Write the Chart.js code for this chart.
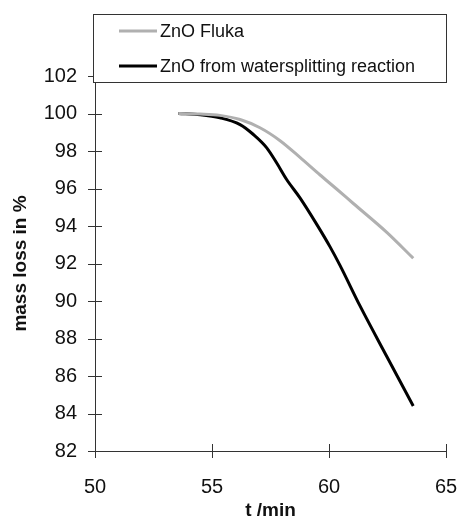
<!DOCTYPE html>
<html>
<head>
  <meta charset="utf-8">
  <title>ZnO mass loss</title>
  <script src="https://cdn.jsdelivr.net/npm/chart.js"></script>
  <style>
    html, body { margin: 0; padding: 0; background: #fff; }
    #wrap { width: 460px; height: 518px; position: relative; }
  </style>
</head>
<body>
  <div id="wrap"><canvas id="myChart"></canvas></div>
  <script>
    // values
    const seriesNames = ['ZnO Fluka', 'ZnO from watersplitting reaction'];
    const tFluka = [53.56, 54.5, 55.34, 56.2, 57.05, 57.91, 58.76, 59.62, 60.3, 61.04, 62.47, 63.6];
    const massFluka = [100.0, 99.97, 99.9, 99.68, 99.24, 98.55, 97.66, 96.72, 96.0, 95.2, 93.66, 92.28];
    const tWater = [53.56, 54.5, 55.34, 56.2, 56.77, 57.34, 57.76, 58.19, 58.76, 59.47, 60.04, 60.47, 61.32, 62.47, 63.6];
    const massWater = [100.0, 99.93, 99.77, 99.41, 98.88, 98.17, 97.37, 96.48, 95.5, 94.1, 92.9, 91.9, 89.75, 87.04, 84.4];
    const xTicks = [50, 55, 60, 65];
    const yTicks = [82, 84, 86, 88, 90, 92, 94, 96, 98, 100, 102];

    const font = "Liberation Sans, Arial, sans-serif";
    const axisColor = '#333';

    const toPoints = (xs, ys) => xs.map((x, i) => ({ x: x, y: ys[i] }));

    // ticks that cross the axis line, like the original
    const crossTicks = {
      id: 'crossTicks',
      afterDraw(chart) {
        const ctx = chart.ctx;
        const xs = chart.scales.x, ys = chart.scales.y;
        ctx.save();
        ctx.strokeStyle = axisColor;
        ctx.lineWidth = 1;
        ctx.beginPath();
        xTicks.forEach(v => {
          const px = Math.round(xs.getPixelForValue(v)) + 0.5;
          ctx.moveTo(px, ys.bottom - 7);
          ctx.lineTo(px, ys.bottom + 7);
        });
        yTicks.forEach(v => {
          const py = Math.round(ys.getPixelForValue(v)) + 0.5;
          ctx.moveTo(xs.left - 7, py);
          ctx.lineTo(xs.left + 7, py);
        });
        ctx.stroke();
        ctx.restore();
      }
    };

    // boxed legend overlapping the top of the plot
    const boxLegend = {
      id: 'boxLegend',
      afterDraw(chart) {
        const ctx = chart.ctx;
        const ds = chart.data.datasets;
        ctx.save();
        ctx.fillStyle = '#fff';
        ctx.fillRect(93, 14, 354, 69);
        ctx.strokeStyle = axisColor;
        ctx.lineWidth = 1;
        ctx.strokeRect(93.5, 14.5, 353, 68);
        ctx.font = '18px ' + font;
        ctx.textBaseline = 'middle';
        const rows = [31, 66];
        ds.forEach((d, i) => {
          ctx.strokeStyle = d.borderColor;
          ctx.lineWidth = 3;
          ctx.beginPath();
          ctx.moveTo(119, rows[i]);
          ctx.lineTo(157, rows[i]);
          ctx.stroke();
          ctx.fillStyle = '#111';
          ctx.fillText(d.label, 160, rows[i] + 1);
        });
        ctx.restore();
      }
    };

    const ctx = document.getElementById('myChart').getContext('2d');
    new Chart(ctx, {
      type: 'line',
      data: {
        datasets: [{
          label: seriesNames[0],
          data: toPoints(tFluka, massFluka),
          borderColor: '#b0b0b0',
          borderWidth: 3,
          pointRadius: 0,
          cubicInterpolationMode: 'monotone'
        }, {
          label: seriesNames[1],
          data: toPoints(tWater, massWater),
          borderColor: '#000',
          borderWidth: 3,
          pointRadius: 0,
          cubicInterpolationMode: 'monotone'
        }]
      },
      options: {
        responsive: true,
        maintainAspectRatio: false,
        animation: false,
        layout: { padding: { top: 76, right: 14, left: 0, bottom: 0 } },
        plugins: { legend: { display: false }, tooltip: { enabled: false } },
        scales: {
          x: {
            type: 'linear',
            min: 50, max: 65,
            afterBuildTicks: s => { s.ticks = xTicks.map(v => ({ value: v })); },
            afterFit: s => { s.height = 67; s.paddingLeft = 0; s.paddingRight = 0; },
            grid: { display: false, drawTicks: false },
            border: { color: axisColor, width: 1 },
            ticks: { color: '#111', padding: 24, maxRotation: 0, font: { size: 20, family: font } },
            title: { display: true, text: 't /min', color: '#111', padding: { top: 0, bottom: -4 }, font: { size: 19, weight: 'bold', family: font } }
          },
          y: {
            min: 82, max: 102,
            afterBuildTicks: s => { s.ticks = yTicks.map(v => ({ value: v })); },
            afterFit: s => { s.width = 95; s.paddingTop = 0; s.paddingBottom = 0; },
            grid: { display: false, drawTicks: false },
            border: { color: axisColor, width: 1 },
            ticks: { color: '#111', padding: 18, font: { size: 20, family: font } },
            title: { display: true, text: 'mass loss in %', color: '#111', padding: { top: 9, bottom: 0 }, font: { size: 19, weight: 'bold', family: font } }
          }
        }
      },
      plugins: [crossTicks, boxLegend]
    });
  </script>
</body>
</html>
